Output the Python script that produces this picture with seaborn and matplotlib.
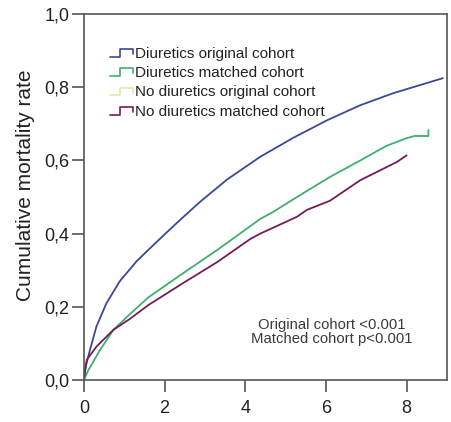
import numpy as np
import pandas as pd
import matplotlib
matplotlib.use("Agg")
import matplotlib.pyplot as plt
import seaborn as sns
from matplotlib.lines import Line2D
from matplotlib.legend_handler import HandlerBase
from matplotlib.ticker import FuncFormatter

# ---- data ----
labels = ["Diuretics original cohort", "Diuretics matched cohort",
          "No diuretics original cohort", "No diuretics matched cohort"]
colors = ["#3a4898", "#3fb06c", "#e4e6b0", "#741c58"]

blue_t = [0, 0.04, 0.15, 0.31, 0.56, 0.89, 1.31, 1.64, 2.0, 2.38, 2.88, 3.55,
          4.37, 5.19, 6.03, 6.85, 7.67, 8.3, 8.9]
blue_v = [0, 0.035, 0.082, 0.146, 0.21, 0.27, 0.325, 0.36, 0.398, 0.437, 0.487,
          0.548, 0.61, 0.662, 0.71, 0.751, 0.784, 0.805, 0.825]

green_t = [0, 0.11, 0.4, 0.73, 1.14, 1.6, 2.46, 3.3, 4.37, 4.7, 5.28,
           6.1, 6.85, 7.5, 8.0, 8.2, 8.54, 8.54]
green_v = [0, 0.027, 0.082, 0.137, 0.18, 0.226, 0.292, 0.355, 0.44, 0.46,
           0.50, 0.555, 0.60, 0.64, 0.661, 0.667, 0.667, 0.683]

purple_t = [0, 0.07, 0.31, 0.73, 1.14, 1.6, 2.46, 3.3, 4.12, 4.37, 5.28, 5.53,
            6.1, 6.85, 7.76, 8.0]
purple_v = [0, 0.055, 0.091, 0.137, 0.167, 0.205, 0.265, 0.322, 0.385, 0.40,
            0.446, 0.465, 0.49, 0.546, 0.596, 0.614]

x_ticks = [0, 2, 4, 6, 8]
y_ticks = [0.0, 0.2, 0.4, 0.6, 0.8, 1.0]
ylabel = "Cumulative mortality rate"
annot = "Original cohort <0.001\nMatched cohort p<0.001"

# ---- plotting ----
sns.set_style("ticks")
plt.rcParams['font.family'] = ['Liberation Sans', 'DejaVu Sans']

fig = plt.figure(figsize=(4.51, 4.22), dpi=100)
ax = fig.add_axes([0.186, 0.0995, 0.805, 0.867])

series = [(blue_t, blue_v, 0), (green_t, green_v, 1), (purple_t, purple_v, 3)]
for t, v, i in series:
    df = pd.DataFrame({"t": t, "v": v})
    sns.lineplot(data=df, x="t", y="v", ax=ax, color=colors[i], lw=1.3,
                 sort=False, estimator=None)

ax.set_xlim(0, 9.0)
ax.set_ylim(0, 1.0)
ax.set_xticks(x_ticks)
ax.set_yticks(y_ticks)
ax.yaxis.set_major_formatter(FuncFormatter(lambda v, p: f"{v:.1f}".replace(".", ",")))
ax.tick_params(axis="both", labelsize=13, length=8.5, width=1.2, color="#555555",
               labelcolor="#222222", direction="out")
ax.tick_params(axis="x", pad=6)
ax.tick_params(axis="y", pad=2)
for s in ax.spines.values():
    s.set_visible(True)
    s.set_color("#555555")
    s.set_linewidth(1.2)
ax.set_xlabel("")
ax.set_ylabel(ylabel, fontsize=15, color="#222222")
ax.yaxis.set_label_coords(-0.134, 0.533)


class StepHandler(HandlerBase):
    def create_artists(self, legend, orig_handle, xdescent, ydescent, width,
                       height, fontsize, trans):
        xs = np.array([0, 0.45, 0.45, 1, 1]) * width - xdescent
        ys = np.array([0.1, 0.1, 0.8, 0.8, 0.35]) * height - ydescent
        ln = Line2D(xs, ys, color=orig_handle.get_color(), lw=1.2)
        ln.set_transform(trans)
        return [ln]


handles = [Line2D([], [], color=c) for c in colors]
ax.legend(handles, labels, loc="upper left", bbox_to_anchor=(0.071, 0.911),
          frameon=False, fontsize=11, handlelength=1.5, handletextpad=0.15,
          labelspacing=0.35, borderpad=0, borderaxespad=0,
          handler_map={Line2D: StepHandler()}, labelcolor="#222222")

ax.text(6.15, 0.132, annot, ha="center", va="center", fontsize=10.7,
        color="#3a3a3a", linespacing=1.0)

fig.savefig("out.png", dpi=100)
